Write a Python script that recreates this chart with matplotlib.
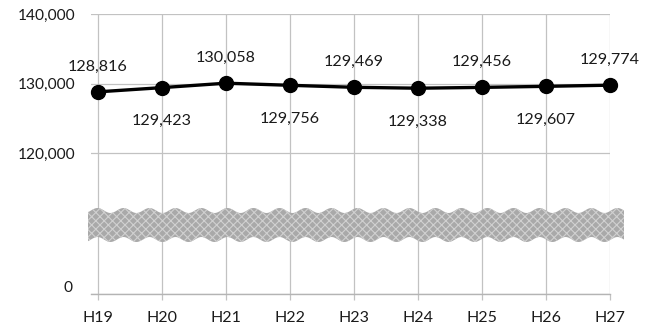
import numpy as np
import matplotlib
matplotlib.use('Agg')
import matplotlib.pyplot as plt
from matplotlib.patches import Polygon
from matplotlib.transforms import ScaledTranslation

# ---------- data ----------
years = ['H19', 'H20', 'H21', 'H22', 'H23', 'H24', 'H25', 'H26', 'H27']
population = [128816, 129423, 130058, 129756, 129469, 129338, 129456, 129607, 129774]
y_ticks = [0, 120000, 130000, 140000]

plt.rcParams['font.family'] = ['Lato', 'DejaVu Sans']
plt.rcParams['hatch.linewidth'] = 0.8

# broken axis: 0 is pulled up right under the 120,000 range
GAP = 99770


def fwd(y):
    y = np.asarray(y, dtype=float)
    return np.where(y < 50000, y + GAP, y)


def inv(y):
    y = np.asarray(y, dtype=float)
    return np.where(y < 105000, y - GAP, y)


fig = plt.figure(figsize=(6.55, 3.31), dpi=100)
ax = fig.add_axes([91 / 655, 37 / 331, 519 / 655, 280 / 331])

x = np.arange(len(years))
ax.set_yscale('function', functions=(fwd, inv))
ax.set_ylim(0, 140000)
ax.set_xlim(-0.11, len(years) - 1)

grid_c = '#c2c2c2'
ax.set_yticks(y_ticks)
ax.set_yticklabels([f'{v:,}' for v in y_ticks])
ax.set_xticks(x)
ax.set_xticklabels(years)
ax.minorticks_off()
ax.grid(True, color=grid_c, lw=0.9)
ax.set_axisbelow(True)
for s in ('left', 'top', 'right'):
    ax.spines[s].set_visible(False)
ax.spines['bottom'].set_color('#b4b4b4')
ax.spines['bottom'].set_linewidth(1.0)

ax.tick_params(axis='y', length=0, pad=11, labelsize=11.2, labelcolor='#1a1a1a')
ax.tick_params(axis='x', length=4, width=0.9, color=grid_c, pad=8,
               labelsize=11.5, labelcolor='#1a1a1a')

# the "0" label sits a little above its line
lbl0 = ax.get_yticklabels()[0]
lbl0.set_transform(lbl0.get_transform() + ScaledTranslation(-3 / 100, 7 / 100, fig.dpi_scale_trans))

ax.plot(x, population, color='black', lw=2.4, marker='o', ms=10,
        clip_on=False, zorder=4)

for i, v in enumerate(population):
    dy = 18 if i % 2 == 0 else -24
    ax.annotate(f'{v:,}', (x[i], v), xytext=(0, dy), textcoords='offset points',
                ha='center', va='center', fontsize=11.6, color='#1a1a1a', zorder=5)

# wavy break band across the axis
w_px = 519
xs = np.linspace(-3 / w_px, 1 + 14 / w_px, 400)
amp = 2.5 / 280
wave = amp * np.sin(2 * np.pi * xs * w_px / 26.0)
cy, hh = (294 - 225) / 280, 14.5 / 280
top = cy + hh + wave
bot = cy - hh + wave
verts = np.column_stack([np.r_[xs, xs[::-1]], np.r_[top, bot[::-1]]])
band = Polygon(verts, closed=True, transform=ax.transAxes, clip_on=False,
               facecolor='#a9a9a9', edgecolor='#d0d0d0', hatch='xxxx', lw=0, zorder=3)
ax.add_patch(band)

fig.savefig('out.png', dpi=100)
